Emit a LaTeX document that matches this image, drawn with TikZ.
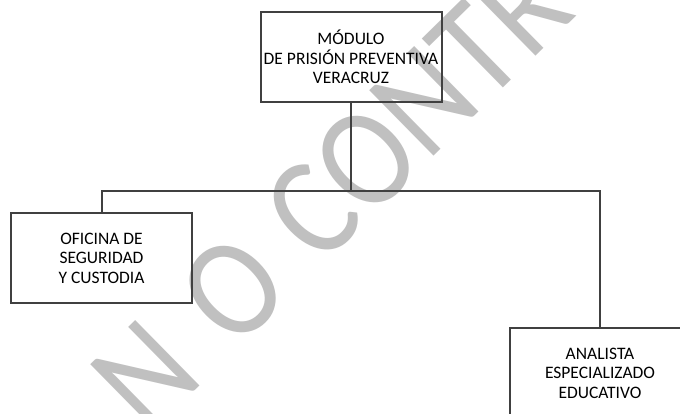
\documentclass[tikz,border=0pt]{standalone}
\usepackage{fontspec}
\usepackage{pdfrender}
\setmainfont{Carlito}
\newfontfamily\wmfont[FakeStretch=0.88]{Carlito}
\definecolor{linegray}{RGB}{64,64,64}
\definecolor{wmgray}{RGB}{192,192,192}
\tikzset{
  orgbox/.style={draw=linegray, line width=2pt, fill=none, minimum width=181pt, minimum height=90pt, inner sep=0pt, align=center, font=\fontsize{17.5}{19.5}\selectfont, text=black},
  conn/.style={draw=linegray, line width=2pt},
  wm/.style={text=wmgray, font=\wmfont\fontsize{143}{150}\selectfont, inner sep=0pt, anchor=base west, rotate=44.5}
}
\begin{document}
\begin{tikzpicture}[x=1pt,y=-1pt]
\useasboundingbox (0,0) rectangle (680,413);
\clip (0,0) rectangle (680,413);
\fill[white] (0,0) rectangle (680,413);
\node[wm] (mark) at (148.5,437) {\textpdfrender{TextRenderingMode=FillStroke,LineWidth=4pt,StrokeColor=white}{N\kern40pt O\hspace{37pt}CONTROLADO}};
\node[orgbox] (top) at (351,57) {MÓDULO\\DE PRISIÓN PREVENTIVA\\VERACRUZ};
\node[orgbox] (left) at (101.5,258) {OFICINA DE\\SEGURIDAD\\Y CUSTODIA};
\node[orgbox] (right) at (600,373) {ANALISTA\\ESPECIALIZADO\\EDUCATIVO};
\coordinate (bus) at (351,191);
\draw[conn] (top.south) -- (bus);
\draw[conn] (left.north) |- (bus -| right.north) -- (right.north);
\end{tikzpicture}
\end{document}
